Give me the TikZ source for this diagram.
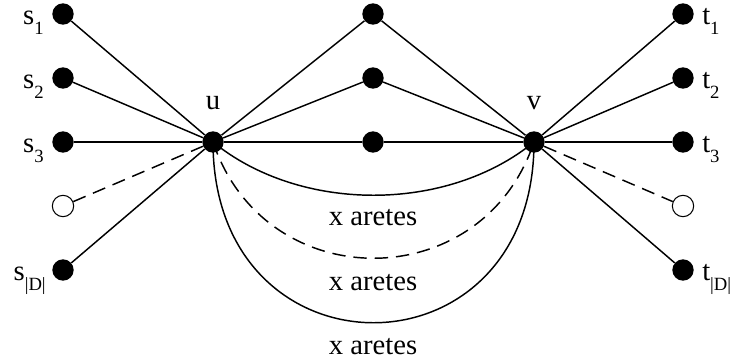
\documentclass[tikz,border=0pt]{standalone}
\usepackage{fontspec}
\setmainfont{Liberation Serif}
\newcommand\lbsub[2]{#1\raisebox{-7pt}{\fontsize{14}{14}\selectfont #2}}
\begin{document}
\begin{tikzpicture}[x=0.75pt,y=-0.75pt,
  full/.style={circle,fill=black,inner sep=0pt,minimum size=16pt},
  open/.style={circle,draw=black,fill=white,line width=0.8pt,inner sep=0pt,minimum size=16pt},
  edge/.style={line width=1.1pt},
  dedge/.style={line width=1.1pt,dash pattern=on 10pt off 6pt},
  lab/.style={font=\fontsize{21.5}{21.5}\selectfont,inner sep=0pt}]
\useasboundingbox (0,0) rectangle (739,363);
% nodes
\node[full] (s1) at (63,14) {};
\node[full] (s2) at (63,78) {};
\node[full] (s3) at (63,142) {};
\node[open] (s4) at (63,206) {};
\node[full] (sD) at (63,270) {};
\node[full] (u) at (213,142) {};
\node[full] (m1) at (373,14) {};
\node[full] (m2) at (373,78) {};
\node[full] (m3) at (373,142) {};
\node[full] (v) at (534,142) {};
\node[full] (t1) at (683,14) {};
\node[full] (t2) at (683,78) {};
\node[full] (t3) at (683,142) {};
\node[open] (t4) at (683,206) {};
\node[full] (tD) at (683,270) {};
% labels
\node[lab,anchor=base east] (ls1) at (44,25) {\lbsub{s}{1}};
\node[lab,anchor=base east] (ls2) at (44,89) {\lbsub{s}{2}};
\node[lab,anchor=base east] (ls3) at (44,153) {\lbsub{s}{3}};
\node[lab,anchor=base east] (lsD) at (46,281) {\lbsub{s}{|D|}};
\node[lab,anchor=base west] (lt1) at (702,25) {\lbsub{t}{1}};
\node[lab,anchor=base west] (lt2) at (702,89) {\lbsub{t}{2}};
\node[lab,anchor=base west] (lt3) at (702,153) {\lbsub{t}{3}};
\node[lab,anchor=base west] (ltD) at (702,281) {\lbsub{t}{|D|}};
\node[lab] (lu) at (213,103) {u};
\node[lab] (lv) at (534,103) {v};
\node[lab] (x1) at (373,218) {x aretes};
\node[lab] (x2) at (373,283) {x aretes};
\node[lab] (x3) at (373,347) {x aretes};
% edges
\draw[edge] (s1) -- (u);
\draw[edge] (s2) -- (u);
\draw[edge] (s3) -- (u);
\draw[edge] (sD) -- (u);
\draw[dedge] (s4) -- (u);
\draw[edge] (u) -- (m1) -- (v);
\draw[edge] (u) -- (m2) -- (v);
\draw[edge] (u) -- (m3) -- (v);
\draw[edge] (v) -- (t1);
\draw[edge] (v) -- (t2);
\draw[edge] (v) -- (t3);
\draw[edge] (v) -- (tD);
\draw[dedge] (v) -- (t4);
% arcs
\draw[edge] (u.center) .. controls (300,213) and (447,213) .. (v.center);
\draw[dedge] (u.center) .. controls (265,297) and (482,297) .. (v.center);
\draw[edge] (u.center) .. controls (213,383) and (534,383) .. (v.center);
\end{tikzpicture}
\end{document}
